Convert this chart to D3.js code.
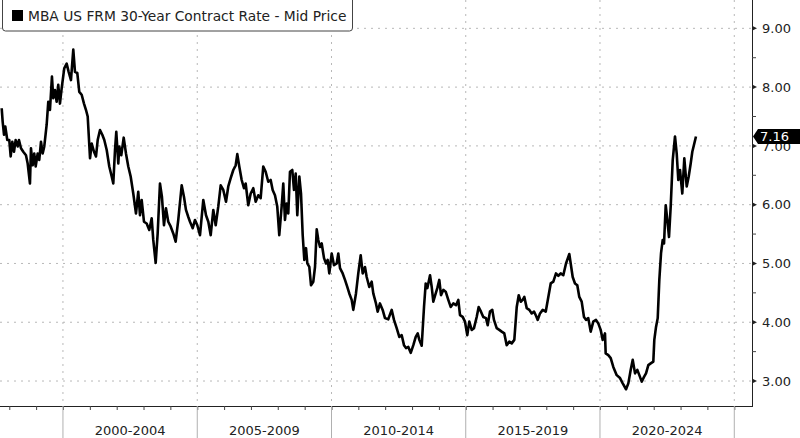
<!DOCTYPE html>
<html>
<head>
<meta charset="utf-8">
<script src="https://cdn.jsdelivr.net/npm/d3@7"></script>
<style>
  html, body { margin: 0; padding: 0; background: #fff; }
  svg { display: block; font-family: "DejaVu Sans", sans-serif; }
</style>
</head>
<body>
<div id="wrapper"></div>
<script>
// readings: decimal year and rate, same order
const years = [
  1997.717, 1997.754, 1997.803, 1997.851, 1997.926, 1998.000, 1998.052, 1998.112, 1998.175, 1998.238,
  1998.313, 1998.361, 1998.436, 1998.521, 1998.622, 1998.685, 1998.771, 1998.808, 1998.872, 1998.931,
  1998.983, 1999.058, 1999.117, 1999.181, 1999.244, 1999.304, 1999.393, 1999.453, 1999.516, 1999.590,
  1999.639, 1999.702, 1999.765, 1999.825, 1999.888, 1999.952, 2000.048, 2000.138, 2000.212, 2000.298,
  2000.384, 2000.447, 2000.533, 2000.607, 2000.696, 2000.782, 2000.857, 2000.920, 2001.006, 2001.069,
  2001.155, 2001.229, 2001.292, 2001.378, 2001.464, 2001.538, 2001.628, 2001.724, 2001.814, 2001.873,
  2001.937, 2001.985, 2002.060, 2002.097, 2002.171, 2002.261, 2002.346, 2002.432, 2002.521, 2002.618,
  2002.719, 2002.804, 2002.868, 2002.931, 2003.017, 2003.117, 2003.214, 2003.304, 2003.363, 2003.453,
  2003.527, 2003.613, 2003.687, 2003.762, 2003.836, 2003.922, 2004.011, 2004.108, 2004.197, 2004.294,
  2004.421, 2004.507, 2004.581, 2004.667, 2004.730, 2004.831, 2004.916, 2005.002, 2005.102, 2005.225,
  2005.326, 2005.412, 2005.501, 2005.598, 2005.687, 2005.784, 2005.873, 2005.970, 2006.071, 2006.156,
  2006.246, 2006.343, 2006.432, 2006.492, 2006.566, 2006.655, 2006.741, 2006.804, 2006.901, 2006.991,
  2007.088, 2007.177, 2007.274, 2007.363, 2007.460, 2007.549, 2007.646, 2007.736, 2007.810, 2007.896,
  2007.981, 2008.056, 2008.145, 2008.205, 2008.268, 2008.331, 2008.391, 2008.454, 2008.540, 2008.603,
  2008.667, 2008.726, 2008.801, 2008.864, 2008.927, 2008.987, 2009.050, 2009.099, 2009.173, 2009.236,
  2009.322, 2009.385, 2009.449, 2009.508, 2009.572, 2009.635, 2009.721, 2009.795, 2009.858, 2009.918,
  2010.007, 2010.093, 2010.194, 2010.253, 2010.317, 2010.417, 2010.503, 2010.588, 2010.663, 2010.752,
  2010.812, 2010.912, 2010.998, 2011.088, 2011.162, 2011.248, 2011.311, 2011.408, 2011.497, 2011.557,
  2011.657, 2011.721, 2011.806, 2011.907, 2011.993, 2012.115, 2012.242, 2012.328, 2012.428, 2012.525,
  2012.615, 2012.700, 2012.775, 2012.860, 2012.950, 2013.047, 2013.136, 2013.210, 2013.270, 2013.359,
  2013.445, 2013.508, 2013.568, 2013.669, 2013.732, 2013.791, 2013.881, 2013.941, 2014.015, 2014.078,
  2014.164, 2014.253, 2014.350, 2014.439, 2014.536, 2014.637, 2014.723, 2014.786, 2014.886, 2014.972,
  2015.058, 2015.132, 2015.222, 2015.307, 2015.408, 2015.482, 2015.568, 2015.654, 2015.754, 2015.818,
  2015.903, 2015.989, 2016.052, 2016.153, 2016.250, 2016.339, 2016.436, 2016.525, 2016.622, 2016.711,
  2016.808, 2016.898, 2016.972, 2017.047, 2017.121, 2017.181, 2017.270, 2017.367, 2017.456, 2017.542,
  2017.616, 2017.680, 2017.765, 2017.866, 2017.978, 2018.075, 2018.164, 2018.261, 2018.361, 2018.447,
  2018.536, 2018.633, 2018.734, 2018.857, 2018.983, 2019.069, 2019.155, 2019.229, 2019.318, 2019.404,
  2019.479, 2019.564, 2019.654, 2019.750, 2019.851, 2019.937, 2020.026, 2020.101, 2020.186, 2020.212,
  2020.309, 2020.399, 2020.495, 2020.622, 2020.745, 2020.845, 2020.969, 2021.054, 2021.143, 2021.218,
  2021.304, 2021.389, 2021.464, 2021.553, 2021.639, 2021.713, 2021.799, 2021.888, 2021.985, 2022.022,
  2022.086, 2022.149, 2022.209, 2022.272, 2022.335, 2022.384, 2022.447, 2022.507, 2022.570, 2022.633,
  2022.708, 2022.793, 2022.857, 2022.916, 2022.980, 2023.065, 2023.140, 2023.229, 2023.304, 2023.378,
  2023.438, 2023.501, 2023.575
];
const rates = [
  7.64, 7.41, 7.19, 7.33, 7.10, 7.10, 6.82, 7.07, 6.90, 7.10,
  6.99, 7.10, 6.96, 6.90, 6.84, 6.70, 6.36, 6.96, 6.67, 6.87,
  6.65, 6.87, 6.76, 7.07, 6.87, 6.99, 7.36, 7.75, 7.61, 8.18,
  7.81, 7.95, 7.75, 8.04, 7.72, 7.98, 8.32, 8.40, 8.26, 8.12,
  8.64, 8.26, 8.24, 7.92, 7.87, 7.72, 7.61, 7.50, 6.79, 7.04,
  6.90, 6.82, 7.10, 7.27, 7.19, 7.10, 6.93, 6.65, 6.48, 6.36,
  6.93, 7.24, 6.70, 6.99, 6.84, 7.14, 6.87, 6.65, 6.48, 6.19,
  5.85, 6.22, 5.82, 6.08, 5.71, 5.68, 5.57, 5.77, 5.40, 5.01,
  5.51, 6.36, 6.13, 5.65, 5.94, 5.71, 5.63, 5.51, 5.37, 5.74,
  6.33, 6.13, 5.91, 5.79, 5.71, 5.60, 5.74, 5.65, 5.48, 6.08,
  5.82, 5.71, 5.48, 5.91, 5.65, 5.97, 6.33, 6.25, 6.05, 6.31,
  6.45, 6.59, 6.67, 6.86, 6.65, 6.42, 6.28, 6.36, 5.99, 6.19,
  6.28, 6.05, 6.16, 6.11, 6.65, 6.56, 6.39, 6.42, 6.25, 6.16,
  5.97, 5.48, 5.97, 6.36, 5.74, 6.02, 5.85, 6.56, 6.59, 6.25,
  6.53, 5.82, 6.48, 6.19, 5.48, 5.06, 5.26, 5.00, 4.94, 4.63,
  4.69, 4.94, 5.58, 5.40, 5.28, 5.34, 5.09, 5.00, 5.06, 4.83,
  5.17, 4.97, 5.00, 5.17, 4.92, 4.83, 4.72, 4.60, 4.49, 4.38,
  4.21, 4.49, 4.83, 5.14, 4.83, 4.94, 4.77, 4.60, 4.69, 4.49,
  4.32, 4.18, 4.32, 4.21, 4.07, 4.05, 4.21, 4.04, 3.90, 3.75,
  3.78, 3.61, 3.56, 3.58, 3.48, 3.61, 3.75, 3.81, 3.70, 3.60,
  4.26, 4.66, 4.58, 4.80, 4.60, 4.35, 4.49, 4.58, 4.72, 4.46,
  4.55, 4.52, 4.38, 4.26, 4.32, 4.29, 4.38, 4.12, 4.09, 4.01,
  3.78, 4.01, 3.87, 3.90, 4.09, 4.26, 4.18, 4.09, 4.07, 3.95,
  4.18, 4.21, 4.04, 3.90, 3.87, 3.84, 3.81, 3.61, 3.67, 3.64,
  3.70, 4.26, 4.46, 4.35, 4.38, 4.43, 4.24, 4.21, 4.15, 4.18,
  4.11, 4.04, 4.15, 4.21, 4.18, 4.43, 4.66, 4.69, 4.83, 4.79,
  4.83, 4.80, 5.00, 5.16, 4.77, 4.66, 4.63, 4.43, 4.35, 4.09,
  4.04, 4.07, 3.84, 4.01, 4.04, 3.98, 3.87, 3.70, 3.81, 3.47,
  3.44, 3.39, 3.24, 3.10, 3.05, 2.96, 2.86, 2.96, 3.19, 3.36,
  3.13, 3.19, 3.10, 2.99, 3.07, 3.13, 3.27, 3.30, 3.33, 3.70,
  3.92, 4.07, 4.72, 5.17, 5.40, 5.34, 5.99, 5.74, 5.45, 5.97,
  6.76, 7.16, 6.87, 6.42, 6.59, 6.19, 6.79, 6.31, 6.48, 6.70,
  6.90, 7.02, 7.16
];
const yTicks = [3, 4, 5, 6, 7, 8, 9];
const yMinorTicks = [3.5, 4.5, 5.5, 6.5, 7.5, 8.5];
const periodStarts = [2000, 2005, 2010, 2015, 2020, 2025];
const periodLabels = ["2000-2004", "2005-2009", "2010-2014", "2015-2019", "2020-2024"];
const seriesName = "MBA US FRM 30-Year Contract Rate - Mid Price";
const lastValue = 7.16;

/* decimal year -> Date */
function toDate(y) {
  const yr = Math.floor(y);
  const start = new Date(yr, 0, 1), end = new Date(yr + 1, 0, 1);
  return new Date(+start + (y - yr) * (end - start));
}

const data = years.map((y, i) => ({date: toDate(y), rate: rates[i]}));

const width = 800, height = 438;
const plotRight = 752, plotBottom = 406;

const svg = d3.select("#wrapper").append("svg")
  .attr("width", width)
  .attr("height", height);

const x = d3.scaleTime()
  .domain([toDate(1997.654), toDate(2025.66)])
  .range([0, plotRight]);

const y = d3.scaleLinear()
  .domain([2.575, 9.482])
  .range([plotBottom, 0]);

/* grid */
svg.append("g").selectAll("line")
  .data(yTicks)
  .join("line")
  .attr("x1", 0).attr("x2", plotRight)
  .attr("y1", d => y(d)).attr("y2", d => y(d))
  .attr("stroke", "#b8b8b8")
  .attr("stroke-dasharray", "2,5");

svg.append("g").selectAll("line")
  .data(periodStarts)
  .join("line")
  .attr("x1", d => x(new Date(d, 0, 1))).attr("x2", d => x(new Date(d, 0, 1)))
  .attr("y1", 0).attr("y2", plotBottom)
  .attr("stroke", "#b8b8b8")
  .attr("stroke-dasharray", "2,5");

/* bottom axis: yearly ticks, period separators and labels */
const yearTicks = d3.range(1998, 2026).map(d => new Date(d, 0, 1));
svg.append("g")
  .attr("transform", `translate(0,${plotBottom})`)
  .call(d3.axisBottom(x).tickValues(yearTicks).tickSize(4).tickFormat(""))
  .call(g => g.select(".domain").attr("d", `M0,0.5H${plotRight}`).attr("stroke", "#222"))
  .call(g => g.selectAll(".tick line").attr("stroke", "#444"));

svg.append("g").selectAll("line")
  .data(periodStarts)
  .join("line")
  .attr("x1", d => x(new Date(d, 0, 1))).attr("x2", d => x(new Date(d, 0, 1)))
  .attr("y1", plotBottom).attr("y2", height)
  .attr("stroke", "#b0b0b0");

svg.append("g").selectAll("text")
  .data(periodLabels)
  .join("text")
  .attr("x", (d, i) => (x(new Date(periodStarts[i], 0, 1)) + x(new Date(periodStarts[i + 1], 0, 1))) / 2)
  .attr("y", 435)
  .attr("text-anchor", "middle")
  .attr("font-size", 13)
  .attr("fill", "#222")
  .text(d => d);

/* right axis */
svg.append("line")
  .attr("x1", plotRight + 0.5).attr("x2", plotRight + 0.5)
  .attr("y1", 0).attr("y2", plotBottom + 1)
  .attr("stroke", "#222");

svg.append("g").selectAll("path")
  .data(yTicks)
  .join("path")
  .attr("d", d => `M${plotRight},${y(d) - 2.5}L${plotRight + 5},${y(d)}L${plotRight},${y(d) + 2.5}Z`)
  .attr("fill", "#222");

svg.append("g").selectAll("line")
  .data(yMinorTicks)
  .join("line")
  .attr("x1", plotRight).attr("x2", plotRight + 4)
  .attr("y1", d => y(d)).attr("y2", d => y(d))
  .attr("stroke", "#444");

svg.append("g").selectAll("text")
  .data(yTicks)
  .join("text")
  .attr("x", 762)
  .attr("y", d => y(d) + 4.7)
  .attr("font-size", 13)
  .attr("fill", "#222")
  .text(d => d3.format(".2f")(d));

/* the series */
const line = d3.line()
  .x(d => x(d.date))
  .y(d => y(d.rate));

svg.append("path")
  .datum(data)
  .attr("d", line)
  .attr("fill", "none")
  .attr("stroke", "#000")
  .attr("stroke-width", 2.6)
  .attr("stroke-linejoin", "round");

/* last value tag */
const ly = y(lastValue);
svg.append("path")
  .attr("d", `M${plotRight + 1},${ly}L${plotRight + 6},${ly - 7.5}H${width}V${ly + 7.5}H${plotRight + 6}Z`)
  .attr("fill", "#000");
svg.append("text")
  .attr("x", 760)
  .attr("y", ly + 4.7)
  .attr("font-size", 13)
  .attr("fill", "#fff")
  .text(d3.format(".2f")(lastValue));

/* legend */
const legend = svg.append("g");
legend.append("rect")
  .attr("x", 2.5).attr("y", -4)
  .attr("width", 350).attr("height", 35)
  .attr("rx", 3)
  .attr("fill", "#fff")
  .attr("stroke", "#444");
legend.append("rect")
  .attr("x", 12).attr("y", 10)
  .attr("width", 11).attr("height", 11)
  .attr("fill", "#000");
legend.append("text")
  .attr("x", 28).attr("y", 20.5)
  .attr("font-size", 13.8)
  .attr("fill", "#222")
  .text(seriesName);
</script>
</body>
</html>
